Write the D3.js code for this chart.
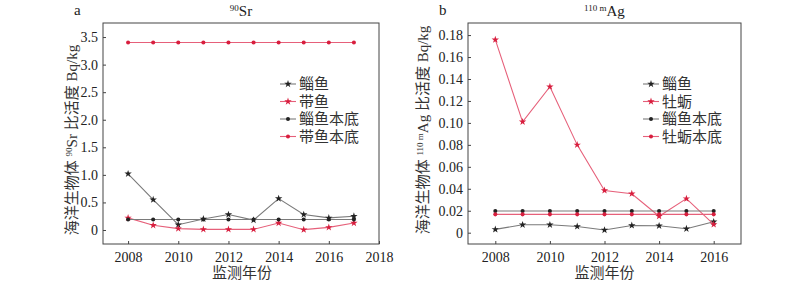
<!DOCTYPE html>
<html>
<head>
<meta charset="utf-8">
<script src="https://cdn.jsdelivr.net/npm/d3@7"></script>
<style>
body { margin: 0; background: #fff; }
text { font-family: "Liberation Serif", "Noto Sans CJK SC", serif; fill: #222; }
</style>
</head>
<body>
<div id="chart"></div>
<script>
// data
const years = [2008, 2009, 2010, 2011, 2012, 2013, 2014, 2015, 2016, 2017];
const srMullet = [1.02, 0.55, 0.095, 0.2, 0.28, 0.18, 0.57, 0.28, 0.22, 0.25];
const srHairtail = [0.22, 0.085, 0.025, 0.012, 0.012, 0.012, 0.127, 0.006, 0.048, 0.127];
const srMulletBg = [0.19, 0.19, 0.19, 0.19, 0.19, 0.19, 0.19, 0.19, 0.19, 0.19];
const srHairtailBg = [3.4, 3.4, 3.4, 3.4, 3.4, 3.4, 3.4, 3.4, 3.4, 3.4];

const agYears = [2008, 2009, 2010, 2011, 2012, 2013, 2014, 2015, 2016];
const agMullet = [0.003, 0.0072, 0.0072, 0.0057, 0.0024, 0.0066, 0.0063, 0.0036, 0.0099];
const agOyster = [0.1758, 0.101, 0.133, 0.08, 0.0385, 0.0355, 0.015, 0.031, 0.0075];
const agMulletBg = [0.0197, 0.0197, 0.0197, 0.0197, 0.0197, 0.0197, 0.0197, 0.0197, 0.0197];
const agOysterBg = [0.0167, 0.0167, 0.0167, 0.0167, 0.0167, 0.0167, 0.0167, 0.0167, 0.0167];

const srTicks = [0, 0.5, 1.0, 1.5, 2.0, 2.5, 3.0, 3.5];
const agTicks = [0, 0.02, 0.04, 0.06, 0.08, 0.10, 0.12, 0.14, 0.16, 0.18];
const srXTicks = [2008, 2010, 2012, 2014, 2016, 2018];
const agXTicks = [2008, 2010, 2012, 2014, 2016];

const GRAY_LINE = "#7a7a7a", GRAY_MARK = "#222", RED_LINE = "#e6607a", RED_MARK = "#d81e3e";
const STAR = 17, DOT = 13;

const svg = d3.select('#chart').append('svg')
    .attr("width", 800).attr("height", 282);

function panel(cfg) {
    const x = d3.scaleLinear().domain(cfg.xDomain).range([cfg.left, cfg.right]);
    const y = d3.scaleLinear().domain(cfg.yDomain).range([cfg.bottom, cfg.top]);
    const g = svg.append("g");

    // frame
    g.append("rect")
        .attr("x", cfg.left).attr("y", cfg.top)
        .attr("width", cfg.right - cfg.left).attr("height", cfg.bottom - cfg.top)
        .style("fill", "none").style("stroke", "#444").style("stroke-width", 1);

    // axes, ticks inward
    const yAx = g.append("g").attr("transform", `translate(${cfg.left},0)`)
        .call(d3.axisRight(y).tickValues(cfg.yTicks).tickSize(3).tickFormat(cfg.yFmt));
    yAx.select(".domain").remove();
    yAx.selectAll("line").style("stroke", "#444");
    yAx.selectAll("text").attr("x", -5).attr("text-anchor", "end")
        .style("font-size", "14px").style("font-family", "Liberation Serif");

    const xAx = g.append("g").attr("transform", `translate(0,${cfg.bottom})`)
        .call(d3.axisTop(x).tickValues(cfg.xTicks).tickSize(3).tickFormat(d3.format("d")));
    xAx.select(".domain").remove();
    xAx.selectAll("line").style("stroke", "#444");
    xAx.selectAll("text").attr("y", 18).attr("dy", "0")
        .style("font-size", "14px").style("font-family", "Liberation Serif");

    // series
    const line = d3.line().x(d => x(d[0])).y(d => y(d[1]));
    cfg.series.forEach(s => {
        const pts = cfg.years.map((yr, i) => [yr, s.values[i]]);
        g.append("path").datum(pts).attr("d", line)
            .style("fill", "none").style("stroke", s.line).style("stroke-width", 1.1);
        g.selectAll(null).data(pts).enter().append("path")
            .attr("transform", d => `translate(${x(d[0])},${y(d[1])})`)
            .attr("d", d3.symbol().type(s.star ? d3.symbolStar : d3.symbolCircle).size(s.star ? STAR : DOT))
            .style("fill", s.mark);
    });

    // legend
    cfg.series.forEach((s, i) => {
        const ly = cfg.legY + i * 17.5;
        g.append("line").attr("x1", cfg.legX).attr("x2", cfg.legX + 16)
            .attr("y1", ly).attr("y2", ly).style("stroke", s.line).style("stroke-width", 1.1);
        g.append("path").attr("transform", `translate(${cfg.legX + 8},${ly})`)
            .attr("d", d3.symbol().type(s.star ? d3.symbolStar : d3.symbolCircle).size(s.star ? STAR : DOT))
            .style("fill", s.mark);
        g.append("text").text(s.name).attr("x", cfg.legX + 19).attr("y", ly + 5)
            .style("font-size", "15px").style("fill", "#333");
    });

    // panel letter and title
    g.append("text").text(cfg.letter).attr("x", cfg.letterX).attr("y", 15).style("font-size", "15px");
    const t = g.append("text").attr("x", (cfg.left + cfg.right) / 2).attr("y", 16)
        .attr("text-anchor", "middle").style("font-size", "15px");
    t.append("tspan").text(cfg.sup).style("font-size", "9px").attr("dy", "-5");
    t.append("tspan").text(cfg.elem).attr("dy", "5");

    // y label
    const yl = g.append("text")
        .attr("transform", `translate(${cfg.yLabX},${cfg.yLabY}) rotate(-90)`)
        .attr("text-anchor", "middle").style("font-size", "15px").style("fill", "#333");
    yl.append("tspan").text("海洋生物体 ");
    yl.append("tspan").text(cfg.sup).style("font-size", "9px").attr("dy", "-5");
    yl.append("tspan").text(cfg.elem).attr("dy", "5");
    yl.append("tspan").text(" 比活度 Bq/kg");

    // x label
    g.append("text").text("监测年份").attr("x", (cfg.left + cfg.right) / 2 + cfg.xLabOff).attr("y", 278)
        .attr("text-anchor", "middle").style("font-size", "15px").style("fill", "#333");
}

panel({
    left: 103, right: 379, top: 23, bottom: 244,
    xDomain: [2007, 2018], yDomain: [-0.254, 3.755],
    xTicks: srXTicks, yTicks: srTicks,
    yFmt: d => d === 0 ? "0" : d3.format(".1f")(d),
    years: years,
    series: [
        {name: "鲻鱼", values: srMullet, line: GRAY_LINE, mark: GRAY_MARK, star: true},
        {name: "带鱼", values: srHairtail, line: RED_LINE, mark: RED_MARK, star: true},
        {name: "鲻鱼本底", values: srMulletBg, line: GRAY_LINE, mark: GRAY_MARK, star: false},
        {name: "带鱼本底", values: srHairtailBg, line: RED_LINE, mark: RED_MARK, star: false}
    ],
    legX: 280, legY: 84,
    letter: "a", letterX: 74, sup: "90", elem: "Sr",
    yLabX: 77, yLabY: 140, xLabOff: 1
});

panel({
    left: 468, right: 741, top: 23, bottom: 244,
    xDomain: [2007, 2017], yDomain: [-0.0103, 0.191],
    xTicks: agXTicks, yTicks: agTicks,
    yFmt: d => d === 0 ? "0" : d3.format(".2f")(d),
    years: agYears,
    series: [
        {name: "鲻鱼", values: agMullet, line: GRAY_LINE, mark: GRAY_MARK, star: true},
        {name: "牡蛎", values: agOyster, line: RED_LINE, mark: RED_MARK, star: true},
        {name: "鲻鱼本底", values: agMulletBg, line: GRAY_LINE, mark: GRAY_MARK, star: false},
        {name: "牡蛎本底", values: agOysterBg, line: RED_LINE, mark: RED_MARK, star: false}
    ],
    legX: 643, legY: 84,
    letter: "b", letterX: 439, sup: "110 m", elem: "Ag",
    yLabX: 428, yLabY: 130, xLabOff: 0
});
</script>
</body>
</html>
